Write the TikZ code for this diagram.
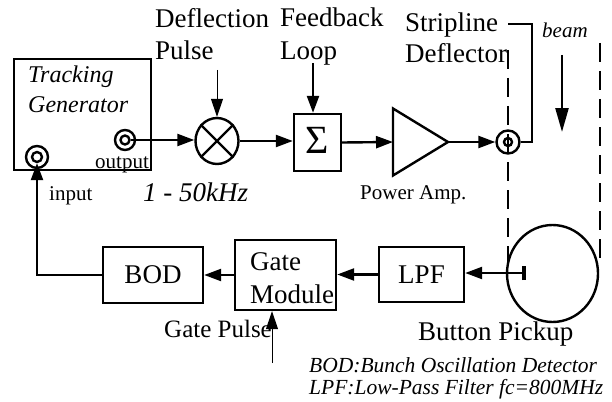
\documentclass[tikz,border=0pt]{standalone}
\usepackage{fontspec}
\setmainfont{Liberation Serif}
\usetikzlibrary{arrows.meta,shapes.geometric}

\tikzset{
    blk/.style={draw, line width=2.4pt, inner sep=0pt},
    wire/.style={line width=2.4pt},
    sig/.style={line width=2.4pt, -{Triangle[length=17pt,width=12pt]}},
    thinsig/.style={line width=1pt, -{Triangle[length=18pt,width=12pt]}},
    bigtxt/.style={font=\fontsize{27}{32}\selectfont, inner sep=0pt},
    midtxt/.style={font=\fontsize{25}{30}\selectfont, inner sep=0pt},
    smalltxt/.style={font=\fontsize{21}{25}\selectfont, inner sep=0pt},
    ittxt/.style={font=\fontsize{24}{30}\selectfont\itshape, inner sep=0pt},
    beamline/.style={line width=2.4pt, dash pattern=on 19pt off 9pt}
}

\begin{document}
\begin{tikzpicture}[x=1pt, y=-1pt]
\useasboundingbox (0,0) rectangle (612,401);

% Tracking generator
\node[blk, minimum width=137pt, minimum height=111pt] (tg) at (82.5,114.5) {};
\node[ittxt, anchor=base west] (trk) at (28,83) {Tracking};
\node[ittxt, anchor=base west] (gen) at (28,113) {Generator};

% output / input connectors
\node[blk, circle, minimum size=20pt] (outc) at (125,140) {};
\node[blk, circle, minimum size=9pt] (outcin) at (outc) {};
\node[blk, circle, minimum size=22pt] (inc) at (37,157) {};
\node[blk, circle, minimum size=10pt] (incin) at (inc) {};
\node[smalltxt, anchor=base west] (outl) at (95,168) {output};
\node[smalltxt, anchor=base west] (inl) at (49,200) {input};
\node[bigtxt, anchor=base west, font=\fontsize{27}{32}\selectfont\itshape] (freq) at (143,201) {1 - 50kHz};

% Mixer with deflection pulse
\node[blk, ellipse, minimum width=43pt, minimum height=46pt] (mix) at (217,141) {};
\draw[wire] (mix.45) -- (mix.225);
\draw[wire] (mix.135) -- (mix.315);
\node[bigtxt, anchor=base west] (defl) at (155,28) {Deflection};
\node[bigtxt, anchor=base west] (dpul) at (155,60) {Pulse};
\coordinate (dp) at (217,70);
\draw[thinsig] (dp) -- (mix.north);

% Sum with feedback loop
\node[blk, minimum width=47pt, minimum height=57pt] (sum) at (317.5,142.5) {};
\node[font=\fontsize{40}{40}\selectfont, inner sep=0pt] (sig) at ([yshift=2pt]sum.center) {Σ};
\node[bigtxt, anchor=base west] (fdbk) at (280,27) {Feedback};
\node[bigtxt, anchor=base west] (loop) at (280,60) {Loop};
\coordinate (fb) at (313,63);
\draw[sig] (fb) -- (fb |- sum.north);

% Power amplifier
\coordinate (ampin) at (393,142);
\coordinate (ampout) at (448,142);
\draw[wire, line join=miter] (393,108.5) -- (ampout) -- (393,175.5) -- cycle;
\node[smalltxt, anchor=base west] (pamp) at (360,199) {Power Amp.};

% Stripline deflector
\node[blk, circle, minimum size=23pt] (strc) at (508,142) {};
\draw[wire] (strc) circle (4pt);
\node[bigtxt, anchor=base west] (strp) at (405,32) {Stripline};
\node[bigtxt, anchor=base west] (sdef) at (405,63) {Deflector};
\coordinate (stripend) at (508,24);
\draw[wire] (strc.east) -- (532,142) |- (stripend);

% Beam pipe
\draw[beamline] (508,50) -- (508,262);
\draw[beamline] (600,43) -- (600,262);
\node[smalltxt, anchor=base west, font=\fontsize{21}{25}\selectfont\itshape] (beam) at (542,38) {beam};
\coordinate (bmtop) at (562,55);
\coordinate (bmbot) at (562,132);
\draw[line width=2.4pt, -{Triangle[length=24pt,width=13pt]}] (bmtop) -- (bmbot);

% Forward signal path
\draw[sig] (outcin.east) -- (outcin.east -| mix.west);
\draw[sig] (mix.east) -- (mix.east -| sum.west);
\draw[sig] (sum.east) -- (ampin);
\draw[sig] (ampout) -- (strc.west);

% Button pickup
\node[blk, ellipse, minimum width=91pt, minimum height=97pt] (bpu) at (552.5,273.5) {};
\node[bigtxt, anchor=base west] (bpl) at (418,340) {Button Pickup};
\coordinate (btn) at (524,273);
\draw[line width=3.5pt] ([yshift=-7pt]btn) -- ([yshift=7pt]btn);

% Detection chain
\node[blk, bigtxt, minimum width=85pt, minimum height=55pt] (lpf) at (421.5,274.5) {LPF};
\node[blk, minimum width=101pt, minimum height=70pt] (gate) at (285.5,275) {};
\node[bigtxt, anchor=base west] (gatet) at (250,270) {Gate};
\node[bigtxt, anchor=base west] (gatem) at (250,303) {Module};
\node[blk, bigtxt, minimum width=100pt, minimum height=56pt] (bod) at (153,275) {BOD};

\draw[sig] (btn) -- (btn -| lpf.east);
\draw[sig] (lpf.west) -- (lpf.west -| gate.east);
\draw[sig] (gate.west) -- (gate.west -| bod.east);
\draw[sig] (bod.west) -| (incin.south);

% Gate pulse
\coordinate (gp) at (272,363);
\draw[thinsig] (gp) -- (gp |- gate.south);
\node[midtxt, anchor=base west] (gpl) at (164,337) {Gate Pulse};

% Legend
\node[smalltxt, anchor=base west, font=\fontsize{21.5}{25}\selectfont\itshape] (leg1) at (309,372) {BOD:Bunch Oscillation Detector};
\node[smalltxt, anchor=base west, font=\fontsize{21.5}{25}\selectfont\itshape] (leg2) at (309,394) {LPF:Low-Pass Filter fc=800MHz};

\end{tikzpicture}
\end{document}
